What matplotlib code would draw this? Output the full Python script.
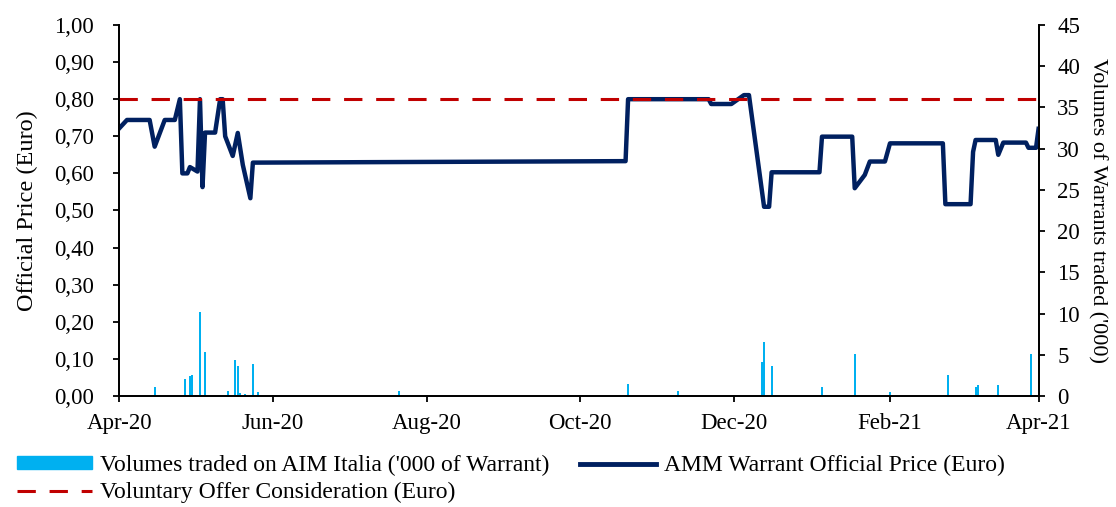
import pandas as pd
import matplotlib
matplotlib.use("Agg")
import matplotlib.pyplot as plt
import matplotlib.dates as mdates
from matplotlib.ticker import FuncFormatter, MultipleLocator
from matplotlib.patches import Patch
from matplotlib.lines import Line2D

plt.rcParams["font.family"] = ["Liberation Serif", "DejaVu Serif"]

# AMM warrant official price (Euro)
price_dates = [
    "2020-04-01", "2020-04-04", "2020-04-13", "2020-04-15", "2020-04-19", "2020-04-23",
    "2020-04-25", "2020-04-26", "2020-04-28", "2020-04-29", "2020-05-02", "2020-05-03",
    "2020-05-04", "2020-05-05", "2020-05-09", "2020-05-11", "2020-05-12", "2020-05-13",
    "2020-05-16", "2020-05-18", "2020-05-20", "2020-05-23", "2020-05-24", "2020-10-19",
    "2020-10-20", "2020-11-21", "2020-11-22", "2020-11-30", "2020-12-05", "2020-12-07",
    "2020-12-13", "2020-12-15", "2020-12-16", "2021-01-04", "2021-01-05", "2021-01-17",
    "2021-01-18", "2021-01-20", "2021-01-22", "2021-01-24", "2021-01-30", "2021-02-01",
    "2021-02-22", "2021-02-23", "2021-03-05", "2021-03-06", "2021-03-07", "2021-03-15",
    "2021-03-16", "2021-03-18", "2021-03-27", "2021-03-28", "2021-03-31", "2021-04-01",
]
price = [
    0.722, 0.744, 0.744, 0.672, 0.744, 0.744,
    0.800, 0.600, 0.600, 0.617, 0.605, 0.800,
    0.563, 0.710, 0.710, 0.800, 0.800, 0.700,
    0.647, 0.709, 0.623, 0.533, 0.629, 0.633,
    0.800, 0.800, 0.787, 0.787, 0.811, 0.811,
    0.510, 0.510, 0.603, 0.603, 0.699, 0.699,
    0.560, 0.578, 0.596, 0.632, 0.632, 0.681,
    0.681, 0.517, 0.517, 0.658, 0.690, 0.690,
    0.650, 0.683, 0.683, 0.669, 0.669, 0.720,
]

# volumes traded on AIM Italia ('000 of warrants)
vol_dates = [
    "2020-04-15", "2020-04-27", "2020-04-29", "2020-04-30", "2020-05-03", "2020-05-05",
    "2020-05-14", "2020-05-17", "2020-05-18", "2020-05-19", "2020-05-21", "2020-05-24",
    "2020-05-26", "2020-07-21", "2020-10-20", "2020-11-09", "2020-11-22", "2020-12-12",
    "2020-12-13", "2020-12-16", "2021-01-05", "2021-01-18", "2021-02-01", "2021-02-24",
    "2021-03-07", "2021-03-08", "2021-03-16", "2021-03-29",
]
volumes = [
    1.06, 2.06, 2.43, 2.55, 10.16, 5.30,
    0.60, 4.37, 3.64, 0.30, 0.20, 3.88,
    0.45, 0.64, 1.46, 0.60, 0.10, 4.17,
    6.60, 3.64, 1.06, 5.10, 0.52, 2.55,
    1.06, 1.33, 1.33, 5.10,
]

offer_price = 0.80

navy = "#002060"
cyan = "#00B0F0"
red = "#C00000"

fig = plt.figure(figsize=(11.16, 5.07), dpi=100)
ax = fig.add_axes([0.107, 0.219, 0.8236, 0.7317])
ax2 = ax.twinx()
ax.set_zorder(ax2.get_zorder() + 1)
ax.patch.set_visible(False)

ax2.bar(pd.to_datetime(vol_dates), volumes, width=0.8, color=cyan)
ax.plot(pd.to_datetime(price_dates), price, color=navy, lw=3.2, solid_joinstyle="round")
ax.axhline(offer_price, color=red, lw=2.2, dashes=(6, 4.5))

start, end = pd.Timestamp("2020-04-01"), pd.Timestamp("2021-04-01")
ax.set_xlim(start, end)
ax.set_ylim(0, 1)
ax2.set_ylim(0, 45)

ax.yaxis.set_major_locator(MultipleLocator(0.1))
ax.yaxis.set_major_formatter(FuncFormatter(lambda v, p: f"{v:.2f}".replace(".", ",")))
ax2.yaxis.set_major_locator(MultipleLocator(5))
ax.xaxis.set_major_locator(mdates.MonthLocator(bymonth=[2, 4, 6, 8, 10, 12]))
ax.xaxis.set_major_formatter(mdates.DateFormatter("%b-%y"))

for a in (ax, ax2):
    a.spines["top"].set_visible(False)
    for s in ("left", "right", "bottom"):
        a.spines[s].set_linewidth(1.3)
    a.tick_params(labelsize=16.5, width=1.3, length=4.5, direction="out")
ax.tick_params(axis="x", pad=8)
ax.tick_params(axis="y", pad=14)
ax2.tick_params(axis="y", pad=9)

ax.set_ylabel("Official Price (Euro)", fontsize=17.5, labelpad=11)
ax2.set_ylabel("Volumes of Warrants traded ('000)", fontsize=16, rotation=-90, labelpad=19)

handles = [
    Patch(color=cyan),
    Line2D([], [], color=red, lw=2.2, dashes=(6, 4.5)),
    Line2D([], [], color=navy, lw=3.5),
]
labels = [
    "Volumes traded on AIM Italia ('000 of Warrant)",
    "Voluntary Offer Consideration (Euro)",
    "AMM Warrant Official Price (Euro)",
]
fig.legend(handles, labels, ncol=2, loc="lower left", bbox_to_anchor=(0.0, -0.025),
           frameon=False, fontsize=17, handlelength=3.2, handleheight=0.5,
           handletextpad=0.35, columnspacing=1.3, labelspacing=0.25, borderaxespad=0.3)

fig.savefig("out.png", dpi=100)
